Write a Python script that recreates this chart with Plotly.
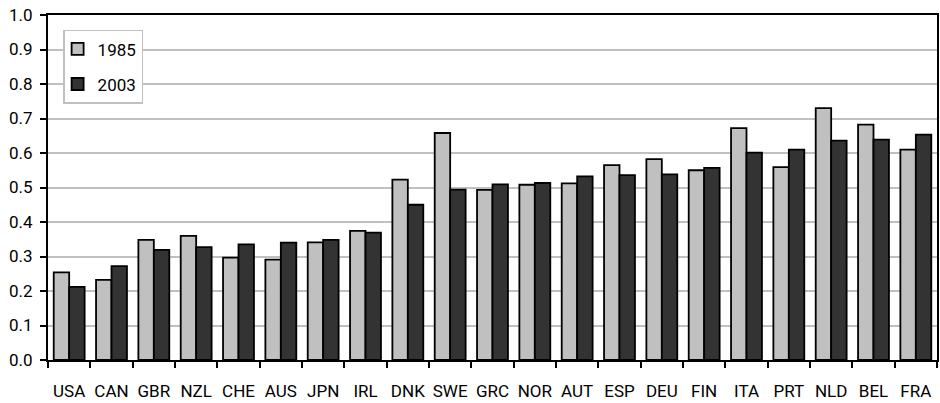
import plotly.graph_objects as go

countries = ["USA", "CAN", "GBR", "NZL", "CHE", "AUS", "JPN", "IRL", "DNK", "SWE", "GRC",
             "NOR", "AUT", "ESP", "DEU", "FIN", "ITA", "PRT", "NLD", "BEL", "FRA"]
v1985 = [0.254, 0.232, 0.348, 0.360, 0.297, 0.291, 0.341, 0.374, 0.523, 0.658, 0.493,
         0.508, 0.512, 0.565, 0.582, 0.550, 0.672, 0.559, 0.730, 0.682, 0.610]
v2003 = [0.212, 0.272, 0.319, 0.327, 0.335, 0.340, 0.348, 0.369, 0.450, 0.494, 0.509,
         0.513, 0.532, 0.536, 0.538, 0.557, 0.601, 0.610, 0.636, 0.639, 0.653]
y_ticks = [0.0, 0.1, 0.2, 0.3, 0.4, 0.5, 0.6, 0.7, 0.8, 0.9, 1.0]

FONT = "Roboto, sans-serif"

fig = go.Figure()
fig.add_trace(go.Bar(x=countries, y=v1985, name="1985", legendgroup="a",
                     marker=dict(color="#C0C0C0", line=dict(color="#000000", width=1.8))))
fig.add_trace(go.Bar(x=countries, y=v2003, name="2003", legendgroup="b",
                     marker=dict(color="#333333", line=dict(color="#000000", width=1.8))))

fig.update_layout(
    width=940, height=403,
    margin=dict(l=48, r=3, t=15, b=43),
    paper_bgcolor="white", plot_bgcolor="white",
    barmode="group", bargap=0.27, bargroupgap=0.0,
    font=dict(family=FONT, size=17, color="#000000"),
    legend=dict(x=0.017, y=0.957, xanchor="left", yanchor="top",
                bordercolor="#C0C0C0", borderwidth=1.5, bgcolor="white",
                font=dict(family=FONT, size=17), tracegroupgap=10,
                itemwidth=30, indentation=-7),
    showlegend=True,
)
fig.update_xaxes(
    type="category", showline=True, linecolor="#000000", linewidth=2, mirror=True,
    ticks="outside", tickson="boundaries", ticklen=6, tickwidth=2, tickcolor="#000000",
    showgrid=False, ticklabelstandoff=15, tickangle=0, automargin=False,
    tickfont=dict(family=FONT, size=17),
)
fig.update_yaxes(
    range=[0, 1.0], tickvals=y_ticks, ticktext=[f"{t:.1f}" for t in y_ticks],
    showline=True, linecolor="#000000", linewidth=2, mirror=True,
    ticks="outside", ticklen=6, tickwidth=2, tickcolor="#000000",
    showgrid=True, gridcolor="#C0C0C0", gridwidth=1.5, zeroline=False, automargin=False,
    ticklabelstandoff=4,
    tickfont=dict(family=FONT, size=17),
)

fig.write_html("out.html")
